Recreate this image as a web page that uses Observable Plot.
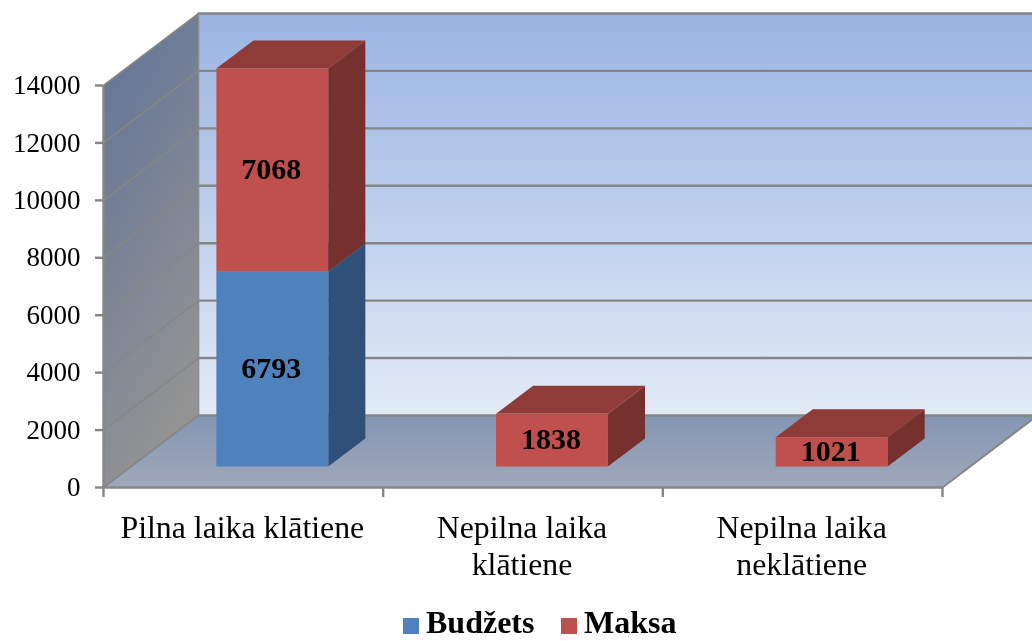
<!DOCTYPE html>
<html><head><meta charset="utf-8">
<script src="https://cdn.jsdelivr.net/npm/d3@7"></script>
<script src="https://cdn.jsdelivr.net/npm/@observablehq/plot@0.6"></script>
<style>
html,body{margin:0;padding:0;background:#fff;overflow:hidden}
#chart svg{display:block;background:#fff}
#legend{position:relative;height:31px;font:bold 32px "Liberation Serif",serif;color:#000;filter:blur(0.45px)}
#legend span{position:absolute;white-space:nowrap;line-height:27px;top:-0.8px}
#legend i{position:absolute;width:16px;height:16px;top:8px}
</style></head><body>
<div id="chart"></div>
<div id="legend"></div>
<script>
const categories = ["Pilna laika klātiene", "Nepilna laika\nklātiene", "Nepilna laika\nneklātiene"];
const budzets = [6793, 0, 0];
const maksa = [7068, 1838, 1021];
const yTicks = [0, 2000, 4000, 6000, 8000, 10000, 12000, 14000];
const seriesNames = ["Budžets", "Maksa"];

// oblique projection in data units: depth 0..1 moves along x and y
const depthX = 0.34, depthY = 2508;
const P = (x, y, z) => ({x: x + z * depthX, y: y + z * depthY});
const barZ0 = 0.29, barZ1 = 0.68, barW = 0.4, barLeft = 0.305;
const nCat = categories.length;

function poly(points, fill) {
  return Plot.line(points, {x: "x", y: "y", fill, stroke: "none", curve: "linear-closed"});
}
function seg(points, stroke, strokeWidth) {
  return Plot.line(points, {x: "x", y: "y", stroke, strokeWidth, curve: "linear"});
}
function box(i, y0, y1, front, top, side) {
  const x0 = i + barLeft, x1 = x0 + barW;
  return [
    poly([P(x1,y0,barZ0),P(x1,y0,barZ1),P(x1,y1,barZ1),P(x1,y1,barZ0)], side),
    poly([P(x0,y1,barZ0),P(x1,y1,barZ0),P(x1,y1,barZ1),P(x0,y1,barZ1)], top),
    poly([P(x0,y0,barZ0),P(x1,y0,barZ0),P(x1,y1,barZ0),P(x0,y1,barZ0)], front)
  ];
}
const defs = () => {
  const d = document.createElementNS("http://www.w3.org/2000/svg", "defs");
  d.innerHTML = `
  <linearGradient id="wall" x1="0" y1="0" x2="0" y2="1"><stop offset="0" stop-color="#9ab4e3"/><stop offset="1" stop-color="#e2eaf6"/></linearGradient>
  <linearGradient id="left" x1="0" y1="0" x2="0.35" y2="1"><stop offset="0" stop-color="#5f7398"/><stop offset="1" stop-color="#939393"/></linearGradient>
  <linearGradient id="floor" x1="0" y1="0" x2="0" y2="1"><stop offset="0" stop-color="#8396b2"/><stop offset="1" stop-color="#a1a8ba"/></linearGradient>`;
  return d;
};

const grid = [];
for (const v of yTicks) {
  grid.push(seg([P(0,v,0),P(0,v,1)], "#868686", 1.6));
  grid.push(seg([P(0,v,1),P(nCat,v,1)], "#868686", 2.4));
}
const bars = [];
const labels = [];
categories.forEach((c, i) => {
  if (budzets[i] > 0) {
    bars.push(...box(i, 0, budzets[i], "#4f81bd", "#3a6190", "#2f5078"));
    labels.push({x: i + barLeft + barW/2, v: budzets[i] / 2, t: String(budzets[i])});
  }
  bars.push(...box(i, budzets[i], budzets[i] + maksa[i], "#c0504d", "#8f3b38", "#76302e"));
  labels.push({x: i + barLeft + barW/2, v: budzets[i] + maksa[i] / 2, t: String(maksa[i])});
});
const labelPts = labels.map(d => ({...P(d.x, d.v, barZ0), t: d.t}));
const catPts = categories.map((c, i) => ({x: i + 0.5, y: 0, t: c}));
const xTicks = d3.range(nCat + 1);

const plot = Plot.plot({
  width: 1032, height: 610,
  marginLeft: 103, marginRight: 90, marginTop: 85, marginBottom: 123,
  x: {domain: [0, nCat]},
  y: {domain: [0, 14000]},
  style: {fontFamily: "'Liberation Serif', serif", background: "#fff", overflow: "hidden", filter: "blur(0.45px)"},
  marks: [
    defs,
    poly([P(0,0,1),P(nCat,0,1),P(nCat,14000,1),P(0,14000,1)], "url(#wall)"),
    poly([P(0,0,0),P(0,0,1),P(0,14000,1),P(0,14000,0)], "url(#left)"),
    poly([P(0,0,0),P(nCat,0,0),P(nCat,0,1),P(0,0,1)], "url(#floor)"),
    ...grid,
    seg([P(0,0,1),P(0,14000,1)], "#8e8e8e", 1.5),
    seg([P(nCat,0,0),P(nCat,0,1)], "#868686", 2),
    ...bars,
    Plot.ruleX([0], {y1: 0, y2: 14000, stroke: "#868686", strokeWidth: 2.4}),
    Plot.ruleY([0], {stroke: "#868686", strokeWidth: 2.4}),
    Plot.axisY({ticks: yTicks, tickSize: 8, tickPadding: 15, fontSize: 27, stroke: "#868686", strokeWidth: 2.4, strokeOpacity: 1, color: "#000", label: null, tickFormat: d => String(d)}),
    Plot.axisX({ticks: xTicks, tickSize: 10, tickFormat: () => "", stroke: "#868686", strokeWidth: 2.4, strokeOpacity: 1, label: null}),
    Plot.text(catPts, {x: "x", y: "y", text: "t", dx: -1, dy: 24, lineAnchor: "top", fontSize: 31.8, lineHeight: 1.17, fill: "#000"}),
    Plot.text(labelPts, {x: "x", y: "y", text: "t", fontSize: 30, fontWeight: "bold", fill: "#000", dx: -1, dy: -0.5})
  ]
});
document.getElementById("chart").append(plot);

const L = document.getElementById("legend");
L.innerHTML = `<i style="left:403px;background:#4f81bd"></i><span style="left:426px">${seriesNames[0]}</span><i style="left:561px;background:#c0504d"></i><span style="left:584px">${seriesNames[1]}</span>`;
</script>
</body></html>
